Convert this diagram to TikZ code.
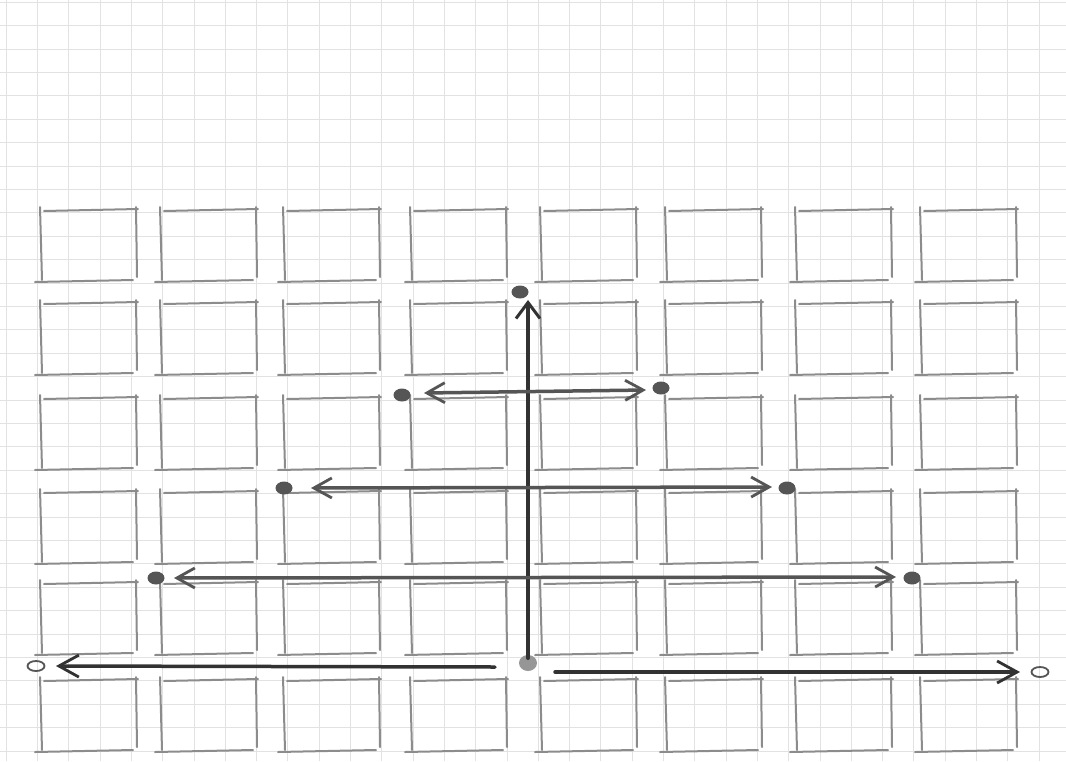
\documentclass[tikz,border=0pt]{standalone}
\usetikzlibrary{arrows.meta,shapes.geometric}
\definecolor{gridline}{RGB}{226,226,226}
\definecolor{pencil}{RGB}{140,140,140}
\definecolor{inkdark}{RGB}{50,50,50}
\definecolor{inkmid}{RGB}{85,85,85}
\definecolor{blobgray}{RGB}{150,150,150}

\begin{document}
\begin{tikzpicture}[
  x=1pt, y=-1pt,
  paperline/.style={gridline, line width=0.6pt},
  boxside/.style={pencil, line width=2pt, line cap=round},
  axisline/.style={inkdark, line width=4pt, line cap=round,
    -{Straight Barb[length=16pt, width=24pt, line width=3pt]}},
  spanline/.style={inkmid, line width=3.5pt, line cap=round,
    {Straight Barb[length=18pt, width=20pt, line width=2.8pt]}-{Straight Barb[length=18pt, width=20pt, line width=2.8pt]}},
  halfline/.style={inkdark, line width=3.5pt, line cap=round,
    -{Straight Barb[length=20pt, width=22pt, line width=2.8pt]}},
  dot/.style={ellipse, fill=inkmid, minimum width=17pt, minimum height=13pt, inner sep=0pt},
  ring/.style={ellipse, draw=inkmid, line width=1.8pt, minimum width=17pt, minimum height=10pt, inner sep=0pt}
]

% =====================================================================
% Paper
% =====================================================================
\fill[white] (0,0) rectangle (1066,761);
\useasboundingbox (0,0) rectangle (1066,761);
\foreach \i in {0,...,33}
  \draw[paperline] (6+31.3*\i,0) -- (6+31.3*\i,761);
\foreach \j in {0,...,32}
  \draw[paperline] (0,2+23.4*\j) -- (1066,2+23.4*\j);

% =====================================================================
% Pencil boxes
% =====================================================================
\foreach \bx in {40,160,283,410,540,665,795,920}
  \foreach \by in {210,303,398,492,583,680} {
    \draw[boxside] (\bx,\by-3) -- (\bx+2,\by+70);
    \draw[boxside] (\bx+4,\by+1) -- (\bx+98,\by-1);
    \draw[boxside] (\bx+96,\by-3) -- (\bx+97,\by+67);
    \draw[boxside] (\bx-5,\by+72) -- (\bx+93,\by+70);
  }

% =====================================================================
% Dots
% =====================================================================
\node[dot] (top) at (520,292) {};
\node[dot, fill=blobgray, minimum width=18pt, minimum height=16pt] (base) at (528,663) {};

\node[dot] (a-left) at (402,395) {};
\node[dot] (a-right) at (661,388) {};
\node[dot] (b-left) at (284,488) {};
\node[dot] (b-right) at (787,488) {};
\node[dot] (c-left) at (156,578) {};
\node[dot] (c-right) at (912,578) {};
\node[ring] (d-left) at (36,666) {};
\node[ring] (d-right) at (1040,672) {};

% arrow ends
\coordinate (up-start) at (528,658);
\coordinate (up-end) at (528,300);
\coordinate (a-from) at (424,393);
\coordinate (a-to) at (646,390);
\coordinate (b-from) at (311,488);
\coordinate (b-to) at (772,487);
\coordinate (c-from) at (174,578);
\coordinate (c-to) at (896,577);
\coordinate (d-from) at (495,667);
\coordinate (d-to) at (56,666);
\coordinate (e-from) at (555,672);
\coordinate (e-to) at (1020,672);

% =====================================================================
% Arrows
% =====================================================================
\draw[axisline] (up-start) -- (up-end);
\draw[spanline] (a-from) -- (a-to);
\draw[spanline] (b-from) -- (b-to);
\draw[spanline] (c-from) -- (c-to);
\draw[halfline] (d-from) -- (d-to);
\draw[halfline] (e-from) -- (e-to);

\end{tikzpicture}
\end{document}
